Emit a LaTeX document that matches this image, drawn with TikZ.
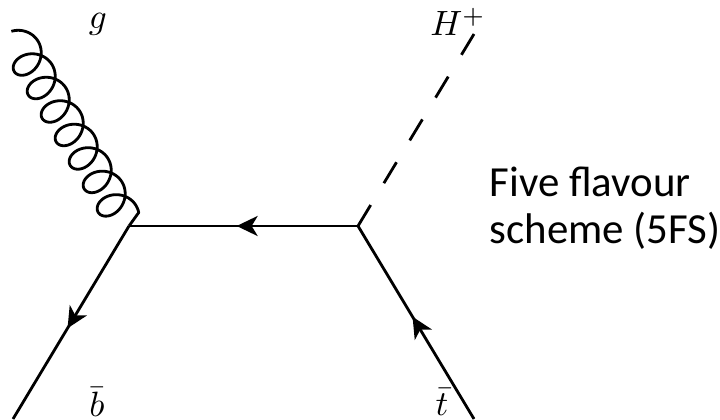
\documentclass[tikz,border=0pt]{standalone}
\usepackage{fontspec}
\setsansfont{Carlito}
\usetikzlibrary{decorations.markings,arrows.meta}
\tikzset{
  fdline/.style={line width=0.8pt,black},
  fdfermion/.style={fdline,postaction={decorate},decoration={markings,
    mark=at position 0.53 with {\arrow{Stealth[length=2.1mm,width=2.0mm,inset=0.6mm]}}}},
  fdscalar/.style={fdline,dash pattern=on 0.245cm off 0.255cm},
  fdgluon/.style={fdline,line join=round,shift={(vleft)},rotate=120.8},
  fdlabel/.style={font=\normalsize,inner sep=0pt},
  fdnote/.style={font=\sffamily\fontsize{12.2}{13.4}\selectfont,align=left,inner sep=0pt},
}
\begin{document}
\begin{tikzpicture}
  \useasboundingbox (0,0) rectangle (7.2,4.19);
  \coordinate (vleft) at (1.29,1.93);
  \coordinate (vright) at (3.58,1.93);
  \coordinate (hend) at (4.74,3.85);
  \coordinate (bend) at (0.13,0);
  \coordinate (tend) at (4.74,0);

  \draw[fdfermion] (vright) -- (vleft);
  \draw[fdfermion] (vleft) -- (bend);
  \draw[fdfermion] (tend) -- (vright);
  \draw[fdscalar] (vright) -- (hend);
  % gluon curl, measured along the line leaving vleft
  \draw[fdgluon] (0,0) -- plot[domain=1.2:47.12,samples=400]
    ({0.0435*\x+0.155*(1-cos(\x r))-0.085},{-0.18*sin(\x r)+0.015});

  \node[fdlabel] (glabel) at (0.98,3.95) {$g$};
  \node[fdlabel] (hlabel) at (4.58,3.97) {$H^+$};
  \node[fdlabel] (blabel) at (0.97,0.17) {$\bar{b}$};
  \node[fdlabel] (tlabel) at (4.42,0.17) {$\bar{t}$};
  \node[fdnote,anchor=west] (note) at (4.89,2.11) {Five flavour\\scheme (5FS)};
\end{tikzpicture}
\end{document}
